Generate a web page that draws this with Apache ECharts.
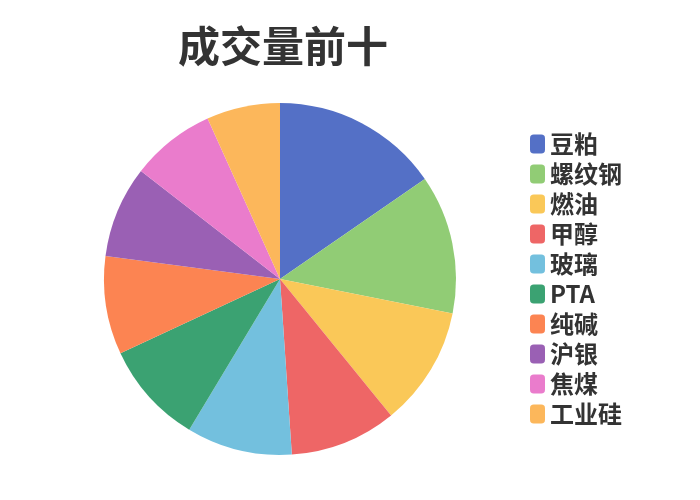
<!DOCTYPE html>
<html>
<head>
<meta charset="utf-8">
<script src="https://cdn.jsdelivr.net/npm/echarts@6/dist/echarts.min.js"></script>
<style>
  html, body { margin: 0; padding: 0; background: #fff; }
  #main { width: 700px; height: 500px; }
</style>
</head>
<body>
<div id="main"></div>
<script>
// 品种名称
var names = ['豆粕', '螺纹钢', '燃油', '甲醇', '玻璃', 'PTA', '纯碱', '沪银', '焦煤', '工业硅'];
// 成交量（按图估算）
var values = [554, 459, 396, 353, 349, 340, 325, 303, 279, 243];
var colors = ['#5470c6', '#91cc75', '#fac858', '#ee6666', '#73c0de', '#3ba272', '#fc8452', '#9a60b4', '#ea7ccc', '#fcb75b'];

var myChart = echarts.init(document.getElementById('main'));

var pieData = [];
for (var i = 0; i < names.length; i++) {
    pieData.push({ name: names[i], value: values[i] });
}

var option = {
    animation: false,
    color: colors,
    title: {
        text: '成交量前十',
        left: 278,
        textAlign: 'center',
        top: 20,
        textStyle: {
            fontFamily: 'Noto Sans CJK SC',
            fontSize: 42,
            fontWeight: 'bold',
            color: '#333'
        }
    },
    legend: {
        orient: 'vertical',
        left: 525,
        top: 127,
        itemWidth: 15,
        itemHeight: 19,
        itemGap: 6,
        icon: 'roundRect',
        data: names,
        textStyle: {
            fontFamily: 'Noto Sans CJK SC',
            fontSize: 24,
            fontWeight: 'bold',
            color: '#333'
        }
    },
    series: [
        {
            name: '成交量',
            type: 'pie',
            radius: 176,
            center: [280, 279],
            data: pieData,
            label: { show: false },
            labelLine: { show: false }
        }
    ]
};
myChart.setOption(option);
</script>
</body>
</html>
